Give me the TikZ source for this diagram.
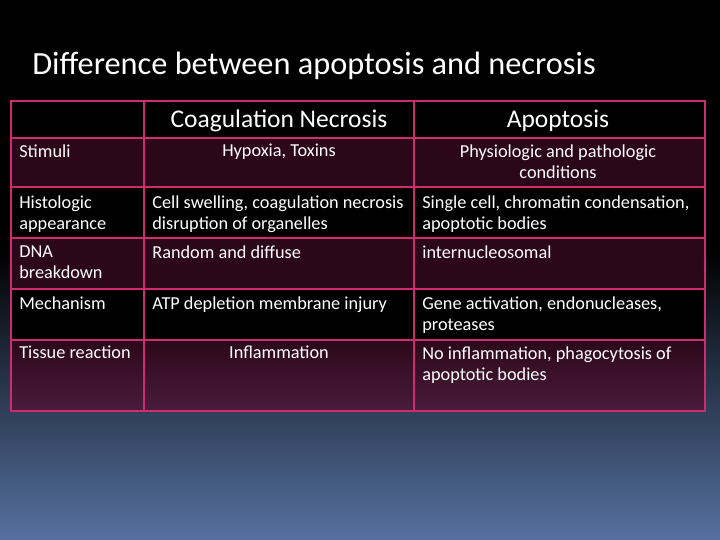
\documentclass[tikz,border=0pt]{standalone}
\usepackage{fontspec}
\setmainfont{Carlito}
\definecolor{pinkline}{RGB}{205,45,110}
\definecolor{rowp}{RGB}{44,7,26}
\definecolor{rowp2}{RGB}{74,28,60}
\definecolor{bgbot}{RGB}{86,113,160}
\begin{document}
\begin{tikzpicture}[x=0.02cm,y=-0.02cm,
  cell/.style={anchor=north west,text=white,font=\fontsize{10.4}{12.2}\selectfont,inner sep=0pt,align=left},
  ccell/.style={anchor=north,text=white,font=\fontsize{10.4}{12.2}\selectfont,inner sep=0pt,align=center},
  head/.style={anchor=base,text=white,font=\fontsize{14.5}{17}\selectfont,inner sep=0pt},
  grid/.style={draw=pinkline,line width=1.6pt}]
\useasboundingbox (0,0) rectangle (720,540);
\fill[black] (0,0) rectangle (720,250);
\shade[top color=black,bottom color=bgbot] (0,249) rectangle (720,540);
\node[anchor=base west,text=white,font=\fontsize{18.4}{22}\selectfont,inner sep=0pt] (title) at (32,75) {Difference between apoptosis and necrosis};
% row fills
\fill[black] (11,101) rectangle (705,138);
\fill[rowp] (11,138) rectangle (705,187);
\fill[black] (11,187) rectangle (705,238);
\fill[rowp] (11,238) rectangle (705,289);
\fill[black] (11,289) rectangle (705,340);
\shade[top color=rowp,bottom color=rowp2] (11,340) rectangle (705,411);
% grid
\draw[grid] (11,101) rectangle (705,411);
\foreach \yy in {138,187,238,289,340} \draw[grid] (11,\yy) -- (705,\yy);
\draw[grid] (144,101) -- (144,411);
\draw[grid] (414,101) -- (414,411);
% header
\node[head] (h1) at (279,128) {Coagulation Necrosis};
\node[head] (h2) at (558,128) {Apoptosis};
% rows
\node[cell] (r1) at (19,144) {Stimuli};
\node[ccell] (r1a) at (279,144) {Hypoxia, Toxins};
\node[ccell] (r1b) at (558,144) {Physiologic and pathologic\\conditions};
\node[cell] (r2) at (19,195) {Histologic\\appearance};
\node[cell] (r2a) at (152,195) {Cell swelling, coagulation necrosis\\disruption of organelles};
\node[cell] (r2b) at (422,195) {Single cell, chromatin condensation,\\apoptotic bodies};
\node[cell] (r3) at (19,245) {DNA\\breakdown};
\node[cell] (r3a) at (152,245) {Random and diffuse};
\node[cell] (r3b) at (422,245) {internucleosomal};
\node[cell] (r4) at (19,296) {Mechanism};
\node[cell] (r4a) at (152,296) {ATP depletion membrane injury};
\node[cell] (r4b) at (422,296) {Gene activation, endonucleases,\\proteases};
\node[cell] (r5) at (19,346) {Tissue reaction};
\node[ccell] (r5a) at (279,346) {Inflammation};
\node[cell] (r5b) at (422,346) {No inflammation, phagocytosis of\\apoptotic bodies};
\end{tikzpicture}
\end{document}
